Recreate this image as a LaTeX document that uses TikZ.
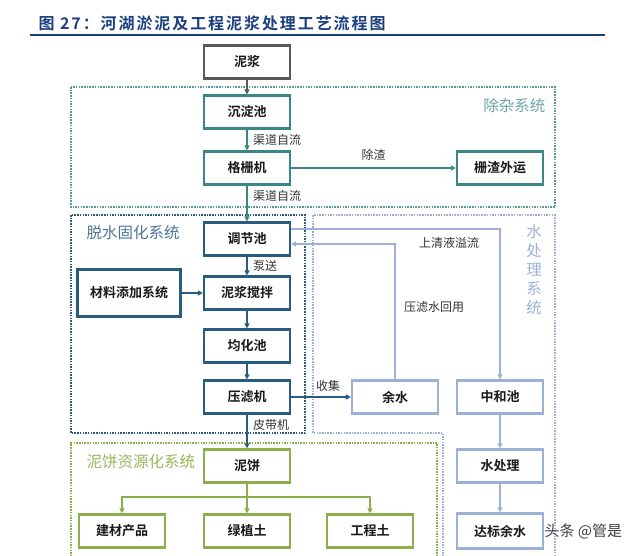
\documentclass[tikz,border=0pt]{standalone}
\usepackage{fontspec}
\setmainfont{Noto Sans CJK SC}[BoldFont={Noto Sans CJK SC Bold}]
\usetikzlibrary{arrows.meta}
\definecolor{titre}{HTML}{1B3F80}
\definecolor{gris}{HTML}{595959}
\definecolor{sarc}{HTML}{3B8687}
\definecolor{deshy}{HTML}{2A5C80}
\definecolor{eau}{HTML}{9CB1D8}
\definecolor{gateau}{HTML}{8AB04A}
\newcommand{\sz}[1]{\fontsize{#1}{#1}\selectfont}
\tikzset{>={Triangle[length=5pt,width=5pt]},every node/.style={font=\sz{12},text=black!80},
 box/.style={draw,line width=2.2pt,fill=white,minimum width=86pt,minimum height=33pt,inner sep=0pt,font=\sz{13}\bfseries,text=black!90},
 flow/.style={line width=1.7pt,->},link/.style={line width=1.7pt},
 frame/.style={line width=1.8pt,dash pattern=on 1.5pt off 1.2pt},syst/.style={font=\sz{15.5}}}

\begin{document}
\begin{tikzpicture}[x=1pt,y=-1pt]
\useasboundingbox (0,0) rectangle (640,555);
\node[anchor=west,font=\sz{16}\bfseries\addfontfeatures{LetterSpace=12},text=titre] (titre) at (35,23) {图 27：河湖淤泥及工程泥浆处理工艺流程图};
\draw[titre,line width=1.3pt] (30,35) -- (605,35);
% cadres des systemes
\draw[frame,sarc!85] (71,87) rectangle (555,207);
\draw[frame,deshy] (71,215) rectangle (305,433);
\draw[frame,eau] (443,570) -- (443,433) -- (313,433) -- (313,215) -- (555,215) -- (555,570);
\draw[frame,gateau] (71,570) -- (71,443) -- (437,443) -- (437,570);
\node[syst,text=sarc!75,anchor=east] (ssarc) at (549,106) {除杂系统};
\node[syst,text=deshy!85,anchor=west] (sdeshy) at (83,233) {脱水固化系统};
\node[syst,text=eau,align=center,font=\fontsize{15.5}{19}\selectfont] (seau) at (534,270) {水\\处\\理\\系\\统};
\node[syst,text=gateau!90,anchor=west] (sgateau) at (83,462) {泥饼资源化系统};
% boites
\node[box,draw=gris] (slurry) at (247,62) {泥浆};
\node[box,draw=sarc] (settle) at (247,112) {沉淀池};\node[box,draw=sarc] (screen) at (247,168) {格栅机};\node[box,draw=sarc] (haul) at (500,168) {栅渣外运};
\node[box,draw=deshy] (adjust) at (247,239) {调节池};\node[box,draw=deshy,minimum width=103pt,minimum height=47pt] (additive) at (129,293) {材料添加系统};
\node[box,draw=deshy] (mix) at (247,293) {泥浆搅拌};\node[box,draw=deshy] (homog) at (247,346) {均化池};\node[box,draw=deshy] (press) at (247,397) {压滤机};
\node[box,draw=eau] (resid) at (395,397) {余水};\node[box,draw=eau] (neutr) at (500,397) {中和池};\node[box,draw=eau] (treat) at (500,466) {水处理};\node[box,draw=eau,minimum height=35pt] (effl) at (500,531) {达标余水};
\node[box,draw=gateau] (cake) at (247,466) {泥饼};
\node[box,draw=gateau] (build) at (122,531) {建材产品};\node[box,draw=gateau] (plant) at (247,531) {绿植土};\node[box,draw=gateau] (fill) at (370,531) {工程土};
% liaisons
\draw[flow,gris] (slurry) -- (settle);
\draw[flow,sarc] (settle) -- node[right=2pt] (lcan1) {渠道自流} (screen);\draw[flow,sarc] (screen) -- node[above=3pt] (lslag) {除渣} (haul);
\draw[flow,sarc] (screen) -- node[pos=.3,right=2pt] (lcan2) {渠道自流} (adjust);
\draw[flow,deshy] (adjust) -- node[right=2pt] (lpump) {泵送} (mix);\draw[flow,deshy] (additive) -- (mix);
\draw[flow,deshy] (mix) -- (homog);\draw[flow,deshy] (homog) -- (press);
\draw[flow,deshy] (press) -- node[pos=.3,right=2pt] (lbelt) {皮带机} (cake);\draw[flow,deshy] (press) -- node[pos=.62,above=1pt] (lcoll) {收集} (resid);
\draw[flow,eau] ([yshift=10pt]adjust.east) -| (neutr);\draw[flow,eau] (resid) |- ([yshift=-5pt]adjust.east);
\node (lover) at (449,243) {上清液溢流};\node (lreuse) at (434,307) {压滤水回用};
\draw[flow,eau] (neutr) -- (treat);\draw[flow,eau] (treat) -- (effl);
\coordinate (fork) at (247,497);
\draw[link,gateau] (cake) -- (fork);\draw[flow,gateau] (fork) -| (build);\draw[flow,gateau] (fork) -- (plant);\draw[flow,gateau] (fork) -| (fill);
\node[anchor=west,font=\sz{15},text=black!75] (marque) at (541,531) {头条 @管是};
\end{tikzpicture}
\end{document}
